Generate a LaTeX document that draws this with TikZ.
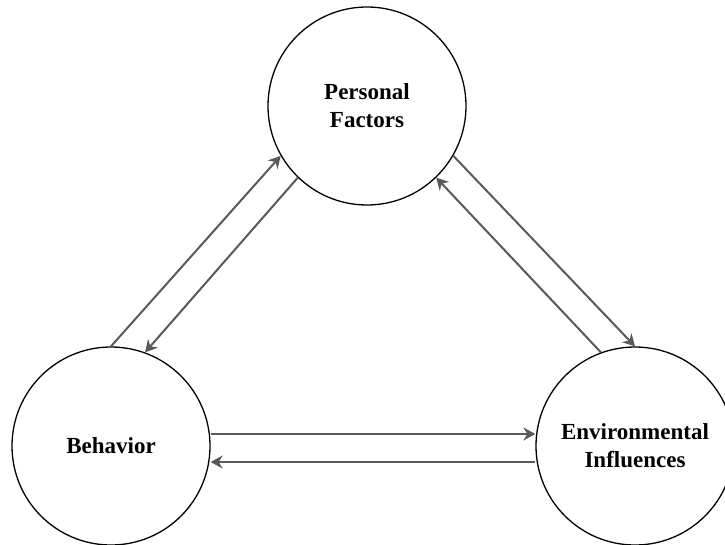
\documentclass[tikz,border=0pt]{standalone}
\usepackage{fontspec}
\setmainfont{Liberation Serif}
\usetikzlibrary{arrows.meta}
\definecolor{linkgray}{HTML}{595959}

\begin{document}
\begin{tikzpicture}[
    x=1pt, y=-1pt,
    factor/.style={circle, draw, line width=1.3pt, minimum size=198pt, inner sep=0pt, align=center, font=\bfseries\fontsize{23}{28}\selectfont},
    arrow/.style={line width=2pt, draw=linkgray, -{Stealth[length=12pt, width=13pt, inset=4pt]}},
]
    \useasboundingbox (0,0) rectangle (725,545);

    \node[factor] (pers) at (367,106) {Personal\\Factors};
    \node[factor] (beh) at (111,446) {Behavior};
    \node[factor] (env) at (635,446) {Environmental\\Influences};

    \draw[arrow] (beh.90) -- (pers.210);
    \draw[arrow] (pers.226) -- (beh.70);
    \draw[arrow] (pers.330) -- (env.90);
    \draw[arrow] (env.110) -- (pers.314);
    \draw[arrow] ([yshift=12pt]beh.east) -- ([yshift=12pt]env.west);
    \draw[arrow] ([yshift=-16pt]env.west) -- ([yshift=-16pt]beh.east);
\end{tikzpicture}
\end{document}
